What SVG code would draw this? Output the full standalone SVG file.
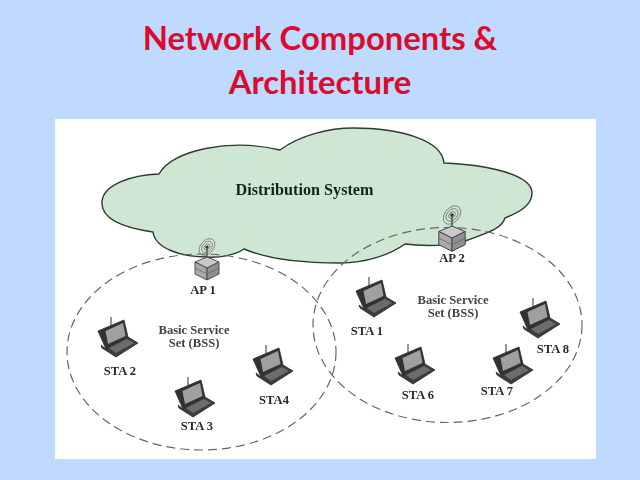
<svg xmlns="http://www.w3.org/2000/svg" width="640" height="480" viewBox="0 0 640 480">
<style>
.title{font-family:"Lato","Open Sans",sans-serif;font-weight:700;font-size:32.8px;fill:#dc0a2c;text-anchor:middle}
.lbl{font-family:"Liberation Serif",serif;font-weight:700;font-size:12.6px;fill:#2a2a2a;text-anchor:middle}
.bss{fill:#444}
.zone{fill:none;stroke:#666;stroke-width:1.2;stroke-dasharray:9 5}
</style>
<defs>
<filter id="soft" x="-5%" y="-5%" width="110%" height="110%"><feGaussianBlur stdDeviation="0.45"/></filter>
<g id="laptop">
<path d="M13 0V12" stroke="#444" stroke-width="1.1" fill="none"/>
<path d="M0 14L26 3L30 20L8 32Z" fill="#333" stroke="#2b2b2b" stroke-width=".8"/>
<path d="M7.500 14L25 6L27.500 19L10 27Z" fill="#a0a0a0"/>
<path d="M3 28L8 32L30 20L40 26L18 40L4 31Z" fill="#3c3c3c" stroke="#2b2b2b" stroke-width=".8"/>
<path d="M11 31L29 22L36 26L18 36Z" fill="#6c6c6c"/>
</g>
<g id="ap">
<g fill="none" stroke="#777" stroke-width=".8">
<ellipse cx="0" cy="0" rx="9.500" ry="6.500" transform="rotate(-50)"/>
<ellipse cx="0" cy="0" rx="6.500" ry="4.500" transform="rotate(-50)"/>
<ellipse cx="0" cy="0" rx="3.500" ry="2.500" transform="rotate(-50)"/>
</g>
<path d="M0 0V13" stroke="#444" stroke-width="1.2"/>
<circle r="1.600" fill="#333"/>
<path d="M-12 15L0 10L12 15L0 21Z" fill="#c9c9c9" stroke="#444" stroke-width=".9"/>
<path d="M-12 15L0 21V33L-12 27Z" fill="#a9a9a9" stroke="#444" stroke-width=".9"/>
<path d="M12 15L0 21V33L12 27Z" fill="#8f8f8f" stroke="#444" stroke-width=".9"/>
<path d="M-12 21L0 27L12 21" fill="none" stroke="#666" stroke-width=".7"/>
</g>
</defs>
<rect id="background" width="640" height="480" fill="#bfd9ff"/>
<g id="heading">
<text class="title" x="320" y="50">Network Components &amp;</text>
<text class="title" x="320" y="94">Architecture</text>
</g>
<rect id="panel" x="55" y="119" width="541" height="340" fill="#fff"/>
<g filter="url(#soft)">
<g id="distribution-system">
<path d="M102 201C104 185 130 175 159 174C172 150 230 138 280 150C300 135 330 128 353 128C400 128 442 140 444 163C490 165 532 175 532 193C532 205 520 212 505 218C502 228 490 232 468 240C450 247 420 246 405 244C390 255 365 263 340 263C300 263 265 258 244 249C235 255 220 258 207 257C180 257 155 248 153 232C125 228 100 220 102 201Z" fill="#cfe6d3" stroke="#2c3a30" stroke-width="1.4"/>
<text class="lbl" x="304.500" y="195" style="font-size:16.200px;fill:#14241a">Distribution System</text>
</g>
<g id="connectors">
<ellipse class="zone" cx="201.500" cy="352" rx="134.500" ry="98"/>
<ellipse class="zone" cx="447.500" cy="325" rx="134.500" ry="97.500"/>
</g>
<g id="ap1"><use href="#ap" transform="translate(207 247)"/><text class="lbl" x="203" y="294">AP 1</text></g>
<g id="ap2"><use href="#ap" transform="translate(452 215) scale(1.1)"/><text class="lbl" x="452" y="262">AP 2</text></g>
<g id="bss-left"><text class="lbl bss" x="194" y="334">Basic Service</text><text class="lbl bss" x="194" y="347">Set (BSS)</text></g>
<g id="bss-right"><text class="lbl bss" x="453" y="304">Basic Service</text><text class="lbl bss" x="453" y="317">Set (BSS)</text></g>
<g id="sta2"><use href="#laptop" x="98" y="317"/><text class="lbl" x="120" y="375">STA 2</text></g>
<g id="sta3"><use href="#laptop" x="175" y="377"/><text class="lbl" x="197" y="430">STA 3</text></g>
<g id="sta4"><use href="#laptop" x="253" y="345"/><text class="lbl" x="274" y="404">STA4</text></g>
<g id="sta1"><use href="#laptop" x="356" y="277"/><text class="lbl" x="367" y="335">STA 1</text></g>
<g id="sta6"><use href="#laptop" x="395" y="344"/><text class="lbl" x="418" y="399">STA 6</text></g>
<g id="sta7"><use href="#laptop" x="493" y="344"/><text class="lbl" x="497" y="395">STA 7</text></g>
<g id="sta8"><use href="#laptop" x="520" y="298"/><text class="lbl" x="553" y="353">STA 8</text></g>
</g>
</svg>
